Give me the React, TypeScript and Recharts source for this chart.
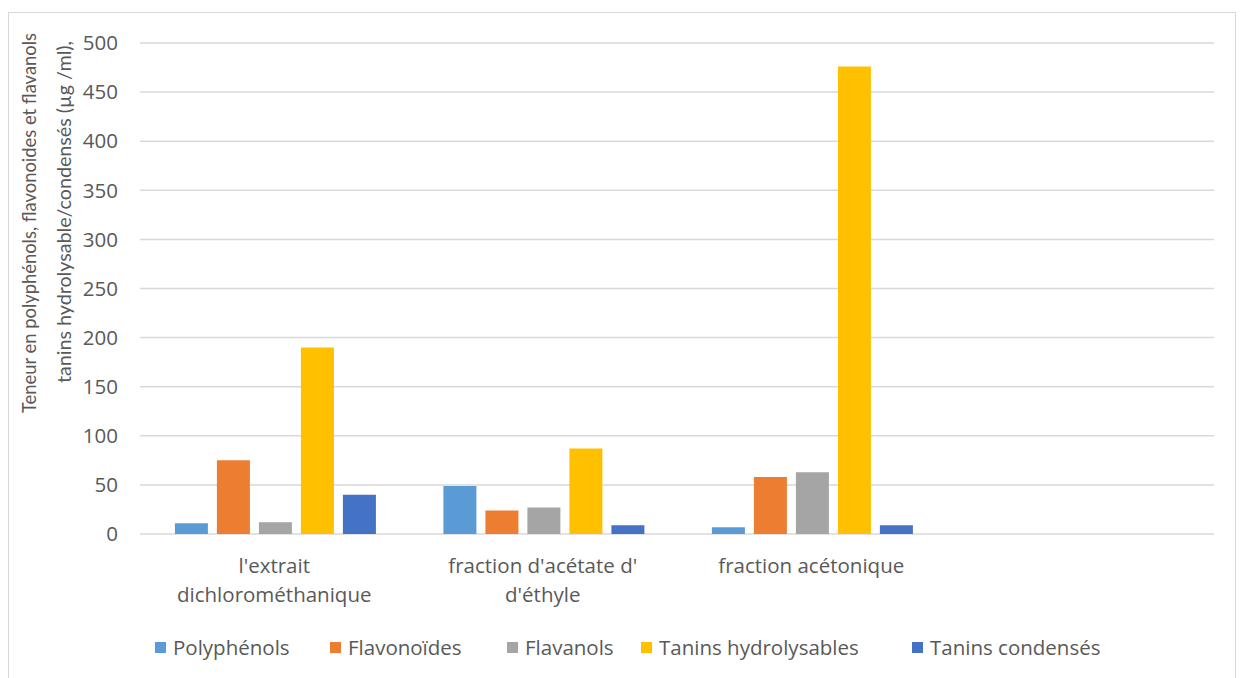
import React from 'react';
import { BarChart, Bar, XAxis, YAxis, CartesianGrid, Legend } from 'recharts';

const categories = [
  "l'extrait\ndichlorométhanique",
  "fraction d'acétate d'\nd'éthyle",
  'fraction acétonique',
  '',
];
const polyphenols = [11, 49, 7, null];
const flavonoides = [75, 24, 58, null];
const flavanols = [12, 27, 63, null];
const taninsHydro = [190, 87, 476, null];
const taninsCond = [40, 9, 9, null];
const yTicks = [0, 50, 100, 150, 200, 250, 300, 350, 400, 450, 500];

const series = [
  { key: 'poly', name: 'Polyphénols', color: '#5B9BD5', values: polyphenols },
  { key: 'flavo', name: 'Flavonoïdes', color: '#ED7D31', values: flavonoides },
  { key: 'flava', name: 'Flavanols', color: '#A5A5A5', values: flavanols },
  { key: 'th', name: 'Tanins hydrolysables', color: '#FFC000', values: taninsHydro },
  { key: 'tc', name: 'Tanins condensés', color: '#4472C4', values: taninsCond },
];

const data = categories.map((name, i) => {
  const row: Record<string, any> = { name };
  series.forEach(s => { row[s.key] = s.values[i]; });
  return row;
});

const FONT = '"Open Sans", Lato, sans-serif';
const TEXT = '#595959';

function CategoryTick({ x, y, payload }: any) {
  const lines = String(payload.value).split('\n');
  return (
    <text x={x} y={y} textAnchor="middle" fill={TEXT} fontSize={20.5} fontFamily={FONT}>
      {lines.map((l, i) => (
        <tspan key={i} x={x} dy={i === 0 ? 31 : 29}>{l}</tspan>
      ))}
    </text>
  );
}

// two-line rotated y axis title, squeezed to fit beside the ticks
function AxisTitle() {
  return (
    <g fill={TEXT} fontSize={20} fontFamily='Lato, sans-serif' textAnchor="middle">
      <text transform="translate(36,223) rotate(-90)" textLength={380} lengthAdjust="spacingAndGlyphs">
        Teneur en polyphénols, flavonoides et flavanols
      </text>
      <text transform="translate(71,212) rotate(-90)" textLength={342} lengthAdjust="spacingAndGlyphs">
        tanins hydrolysable/condensés  (µg /ml),
      </text>
    </g>
  );
}

const legendLeft = [155, 330, 507, 641, 912];

function LegendRow() {
  return (
    <div style={{ position: 'relative', height: 30, fontFamily: FONT, fontSize: 20.5, color: TEXT }}>
      {series.map((s, i) => (
        <div key={s.key} style={{ position: 'absolute', left: legendLeft[i], top: 0, height: 30, display: 'flex', alignItems: 'center', whiteSpace: 'nowrap' }}>
          <span style={{ width: 11, height: 11, background: s.color, display: 'inline-block', marginRight: 7 }} />
          <span>{s.name}</span>
        </div>
      ))}
    </div>
  );
}

export default function App() {
  return (
    <div style={{ position: 'absolute', left: 0, top: 0, width: 1242, height: 678, background: '#fff' }}>
      <div style={{ position: 'absolute', left: 8, top: 12, width: 1228, height: 670, border: '1px solid #d9d9d9', boxSizing: 'border-box' }} />
      <div style={{ position: 'absolute', left: 0, top: 0 }}>
        <BarChart
          width={1242}
          height={678}
          data={data}
          margin={{ top: 43, right: 28, left: 80, bottom: 44 }}
          barCategoryGap="13%"
          barGap={9}
        >
          <CartesianGrid vertical={false} stroke="#d9d9d9" strokeWidth={1.5} />
          <XAxis dataKey="name" height={70} tickLine={false} axisLine={false} interval={0} tick={<CategoryTick />} />
          <YAxis
            width={60}
            domain={[0, 500]}
            ticks={yTicks}
            tickLine={false}
            axisLine={false}
            tickMargin={16}
            tick={{ fill: TEXT, fontSize: 20.5, fontFamily: FONT }}
          />
          <Legend verticalAlign="bottom" content={<LegendRow />} wrapperStyle={{ bottom: 16, left: 0, width: 1242 }} />
          {series.map(s => (
            <Bar key={s.key} dataKey={s.key} name={s.name} fill={s.color} isAnimationActive={false} />
          ))}
        </BarChart>
      </div>
      <svg style={{ position: 'absolute', left: 0, top: 0 }} width={120} height={678}>
        <AxisTitle />
      </svg>
    </div>
  );
}
